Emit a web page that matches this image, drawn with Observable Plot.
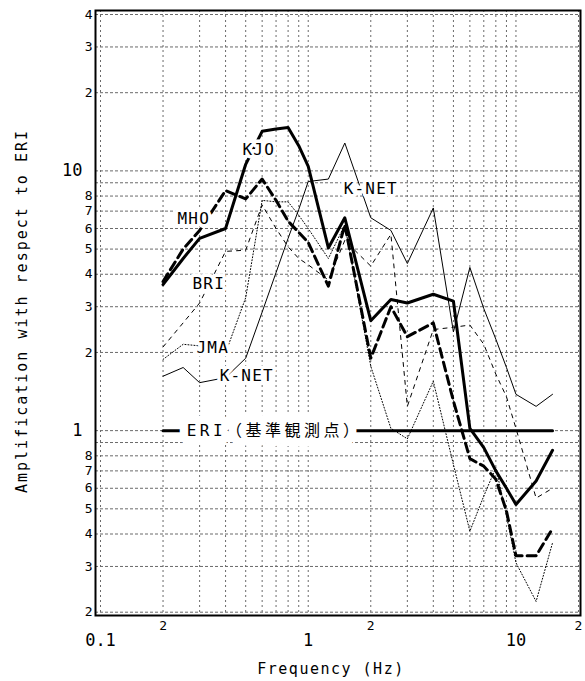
<!DOCTYPE html>
<html>
<head>
<meta charset="utf-8">
<script src="https://cdn.jsdelivr.net/npm/d3@7"></script>
<script src="https://cdn.jsdelivr.net/npm/@observablehq/plot@0.6"></script>
<style>
  html, body { margin: 0; padding: 0; background: #fff; }
</style>
</head>
<body>
<div id="chart"></div>
<script>
// ---- data ----
const freqs   = [0.2, 0.25, 0.3, 0.4, 0.5, 0.6, 0.7, 0.8, 0.9, 1, 1.25, 1.5, 2, 2.5, 3, 4, 5, 6, 7, 8, 9, 10, 12.5, 15];
const kjoAmp  = [3.65, 4.6, 5.5, 6.0, 10.6, 14.2, 14.5, 14.7, 12.5, 10.4, 5.05, 6.6, 2.65, 3.2, 3.1, 3.35, 3.15, 1.02, 0.86, 0.70, 0.60, 0.52, 0.64, 0.84];
const mhoAmp  = [3.75, 5.0, 5.9, 8.4, 7.8, 9.3, 7.7, 6.4, 5.8, 5.3, 3.6, 6.2, 1.9, 3.0, 2.3, 2.6, 1.3, 0.78, 0.73, 0.65, 0.49, 0.33, 0.33, 0.42];
const briAmp  = [2.1, 2.6, 3.1, 4.9, 4.95, 7.4, 6.0, 5.1, 4.6, 4.35, 3.8, 5.4, 4.3, 5.7, 1.24, 2.45, 2.5, 2.55, 2.15, 1.65, 1.35, 1.02, 0.55, 0.6];
const jmaAmp  = [1.88, 2.15, 2.12, 1.99, 3.25, 7.7, 7.6, 7.6, 6.75, 6.0, 4.6, 6.2, 1.77, 1.02, 0.93, 1.55, 0.74, 0.41, 0.56, 0.72, 0.47, 0.31, 0.22, 0.37];
const knetAmp = [1.62, 1.75, 1.53, 1.6, 1.9, 2.86, 4.06, 5.5, 7.1, 9.1, 9.3, 12.8, 6.6, 5.9, 4.4, 7.2, 2.4, 4.25, 2.95, 2.25, 1.75, 1.38, 1.24, 1.38];
const eriFreq = [0.2, 15];
const eriAmp  = [1, 1];

const labelText = ["KJO", "MHO", "BRI", "JMA", "K-NET", "K-NET"];
const labelFreq = [0.578, 0.281, 0.332, 0.347, 0.506, 2.0];
const labelAmp  = [12.1, 6.56, 3.66, 2.09, 1.63, 8.56];
const eriLabelText = ["ERI（基準観測点）"];
const eriLabelFreq = [0.26];
const eriLabelAmp  = [1];

const xGrid = [0.1,0.2,0.3,0.4,0.5,0.6,0.7,0.8,0.9,1,2,3,4,5,6,7,8,9,10,20];
const yGrid = [0.2,0.3,0.4,0.5,0.6,0.7,0.8,0.9,1,2,3,4,5,6,7,8,9,10,20,30,40];
const xMinorTicks  = [0.2,0.3,0.4,0.5,0.6,0.7,2,3,4,5,6,7,20];
const xMinorLabels = ["2","3","4","5","6","7","2","3","4","5","6","7","2"];
const xMajorTicks  = [0.1, 1, 10];
const xMajorLabels = ["0.1", "1", "10"];
const yMinorTicks  = [0.2,0.3,0.4,0.5,0.6,0.7,0.8,2,3,4,5,6,7,8,20,30,40];
const yMinorLabels = ["2","3","4","5","6","7","8","2","3","4","5","6","7","8","2","3","4"];
const yMajorTicks  = [1, 10];
const yMajorLabels = ["1", "10"];
const xTitle = "Frequency (Hz)";
const yTitle = "Amplification with respect to ERI";

// ---- build tables ----
const rows = (xs, ys) => xs.map((f, i) => ({f, a: ys[i]}));
const lookup = (ticks, labels) => { const m = new Map(ticks.map((t, i) => [t, labels[i]])); return d => m.get(d); };
const labels = labelText.map((t, i) => ({t, f: labelFreq[i], a: labelAmp[i]}));
const eriLabel = eriLabelText.map((t, i) => ({t, f: eriLabelFreq[i], a: eriLabelAmp[i]}));

const FONT = '"DejaVu Sans Mono", "Noto Sans CJK JP", monospace';
const GRID = "#6a6a6a";

const chart = Plot.plot({
  width: 585,
  height: 681,
  marginLeft: 95,
  marginRight: 5,
  marginTop: 10,
  marginBottom: 66,
  style: {fontFamily: FONT, background: "#fff", color: "#000"},
  x: {type: "log", domain: [0.1, 20], insetLeft: 5, insetRight: 2},
  y: {type: "log", domain: [0.2, 40], insetTop: 4, insetBottom: 3.3},
  marks: [
    Plot.ruleX(xGrid, {stroke: GRID, strokeWidth: 1, strokeDasharray: "2,3"}),
    Plot.ruleY(yGrid, {stroke: GRID, strokeWidth: 1, strokeDasharray: "3,2"}),

    Plot.line(rows(freqs, knetAmp), {x: "f", y: "a", stroke: "#000", strokeWidth: 1}),
    Plot.line(rows(freqs, jmaAmp),  {x: "f", y: "a", stroke: "#000", strokeWidth: 1, strokeDasharray: "1,2"}),
    Plot.line(rows(freqs, briAmp),  {x: "f", y: "a", stroke: "#000", strokeWidth: 1, strokeDasharray: "4,5"}),
    Plot.line(rows(freqs, mhoAmp),  {x: "f", y: "a", stroke: "#000", strokeWidth: 3, strokeDasharray: "9,5"}),
    Plot.line(rows(freqs, kjoAmp),  {x: "f", y: "a", stroke: "#000", strokeWidth: 3}),
    Plot.line(rows(eriFreq, eriAmp), {x: "f", y: "a", stroke: "#000", strokeWidth: 3}),

    Plot.text(labels, {x: "f", y: "a", text: "t", fontSize: 16, fill: "#000",
      stroke: "#fff", strokeWidth: 7, strokeLinejoin: "round", ariaDescription: "series-label"}),
    Plot.text(eriLabel, {x: "f", y: "a", text: "t", fontSize: 16, fill: "#000", textAnchor: "start",
      stroke: "#fff", strokeWidth: 17, strokeLinejoin: "round", ariaDescription: "eri-label"}),

    Plot.frame({stroke: "#000", strokeWidth: 2}),

    Plot.axisX(xMinorTicks, {tickFormat: lookup(xMinorTicks, xMinorLabels), tickSize: 0, tickPadding: 5, fontSize: 13, label: null}),
    Plot.axisX(xMajorTicks, {tickFormat: lookup(xMajorTicks, xMajorLabels), tickSize: 0, tickPadding: 18, fontSize: 17, label: null}),
    Plot.axisY(yMinorTicks, {tickFormat: lookup(yMinorTicks, yMinorLabels), tickSize: 0, tickPadding: 3, fontSize: 13, label: null}),
    Plot.axisY(yMajorTicks, {tickFormat: lookup(yMajorTicks, yMajorLabels), tickSize: 0, tickPadding: 13, fontSize: 17, label: null}),

    Plot.text([xTitle], {frameAnchor: "bottom", dx: -7, dy: 58, fontSize: 15, fill: "#000", ariaDescription: "x-title"}),
    Plot.text([yTitle], {frameAnchor: "left", textAnchor: "middle", rotate: -90, dx: -73, dy: -2, fontSize: 15, fill: "#000", ariaDescription: "y-title"})
  ]
});

const svg = d3.select(chart);
svg.selectAll('g[aria-description="series-label"] text').attr("letter-spacing", "1.2");
svg.selectAll('g[aria-description="eri-label"] text').attr("letter-spacing", "3.5");
svg.selectAll('g[aria-description="x-title"] text').attr("letter-spacing", "1.5");
svg.selectAll('g[aria-description="y-title"] text').attr("letter-spacing", "2");

document.getElementById("chart").appendChild(chart);
</script>
</body>
</html>
